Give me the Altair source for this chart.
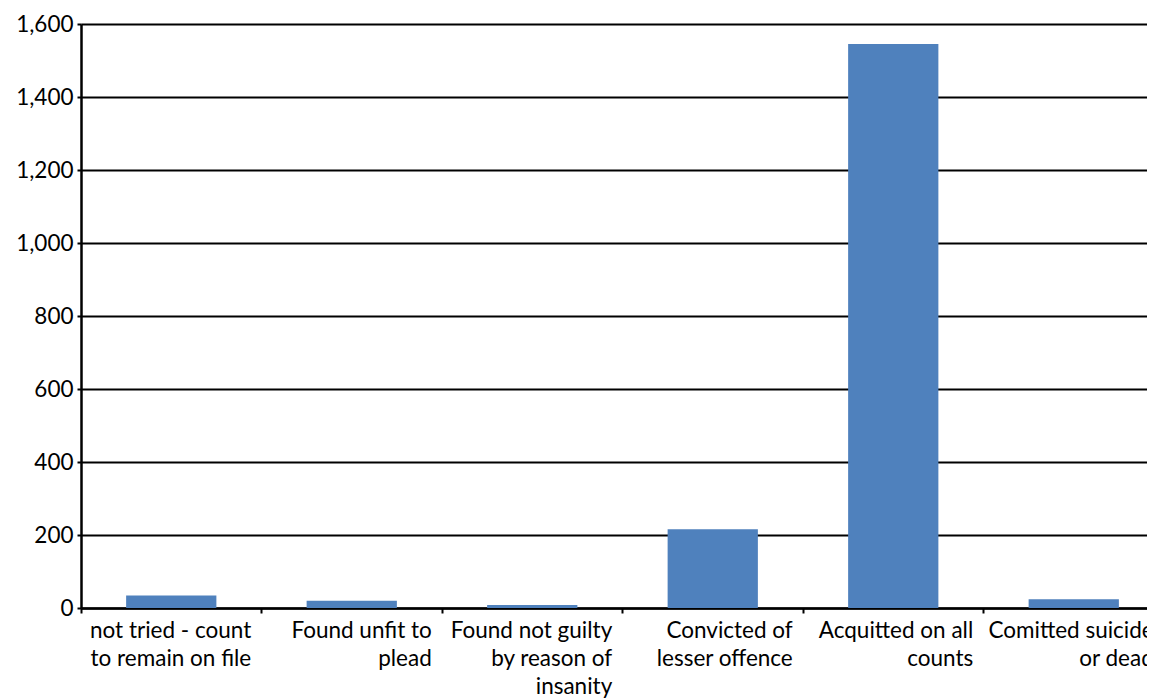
import altair as alt
import pandas as pd

categories = [
    "not tried - count|to remain on file",
    "Found unfit to|plead",
    "Found not guilty|by reason of|insanity",
    "Convicted of|lesser offence",
    "Acquitted on all|counts",
    "Comitted suicide|or dead",
]
values = [34, 20, 8, 216, 1545, 24]

df = pd.DataFrame({"category": categories, "value": values})

FONT = "Lato"

chart = alt.Chart(df).mark_bar(color="#4F81BD", width=alt.RelativeBandSize(0.5)).encode(
    x=alt.X(
        "category:N",
        sort=categories,
        scale=alt.Scale(paddingInner=0, paddingOuter=0, range=[0, 1083]),
        axis=alt.Axis(
            title=None,
            labelExpr="split(datum.label, '|')",
            labelAngle=0,
            labelAlign="right",
            labelBaseline="top",
            labelOffset=80,
            labelPadding=6,
            labelLineHeight=28,
            labelFontSize=22.5,
            labelFont=FONT,
            labelColor="black",
            bandPosition=0,
            tickSize=5,
            tickWidth=2,
            tickColor="black",
            domainColor="black",
            domainWidth=2.5,
            grid=False,
            labelOverlap=False,
            labelBound=False,
        ),
    ),
    y=alt.Y(
        "value:Q",
        scale=alt.Scale(domain=[0, 1600], nice=False),
        axis=alt.Axis(
            title=None,
            values=[0, 200, 400, 600, 800, 1000, 1200, 1400, 1600],
            format=",d",
            labelFontSize=22.5,
            labelFont=FONT,
            labelColor="black",
            labelPadding=4,
            tickSize=4,
            tickWidth=2,
            tickColor="black",
            domainColor="black",
            domainWidth=2.5,
            grid=True,
            gridColor="black",
            gridWidth=2,
        ),
    ),
).properties(
    width=1066,
    height=584,
    autosize=alt.AutoSizeParams(type="none"),
    padding={"left": 73, "top": 16, "right": 0, "bottom": 91},
).configure_view(stroke=None).configure(background="white")

chart.save("out.html", embed_options={"renderer": "svg", "actions": False})
